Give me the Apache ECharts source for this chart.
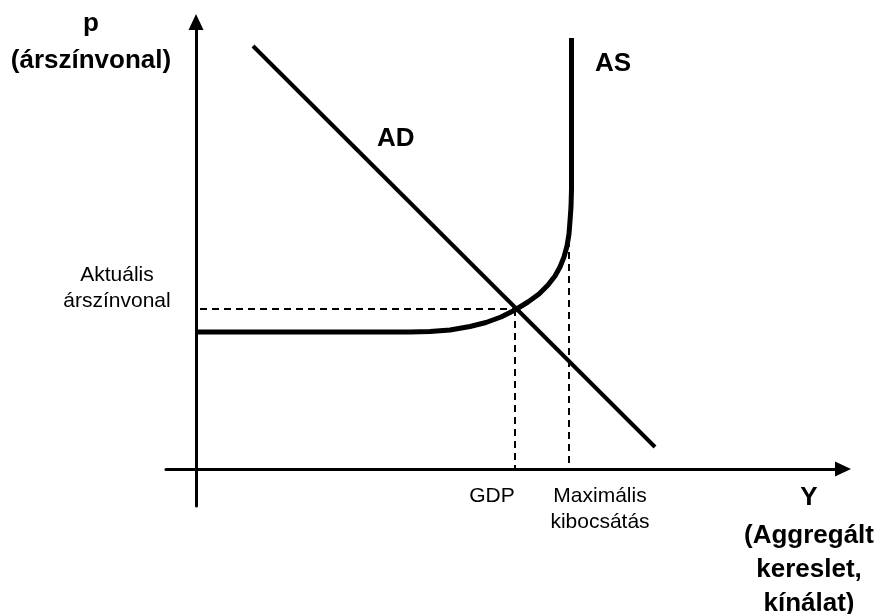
<!DOCTYPE html>
<html>
<head>
<meta charset="utf-8">
<script src="https://cdn.jsdelivr.net/npm/echarts@6/dist/echarts.min.js"></script>
<style>
  html, body { margin: 0; padding: 0; background: #fff; }
  #chart { width: 880px; height: 614px; }
</style>
</head>
<body>
<div id="chart"></div>
<script>
// AD-AS modell, a tengelyek egysegei tetszolegesek
const adLine = [[5.7, 42.3], [45.9, 2.2]]
const asCurve = [
  [0, 13.7], [21.4, 13.7], [23.4, 13.75], [25.4, 13.9], [27.4, 14.25],
  [29.0, 14.65], [30.5, 15.2], [31.9, 15.9], [33.2, 16.7], [34.3, 17.5],
  [35.2, 18.4], [35.9, 19.3], [36.4, 20.2], [36.8, 21.2], [37.1, 22.3],
  [37.3, 23.5], [37.4, 24.8], [37.5, 26.2], [37.55, 28.0], [37.55, 43.1]
]
const priceLevel = 16       // aktuális árszínvonal
const gdp = 31.9
const maxOutput = 37.3
const maxOutputTop = 22.9
const priceStart = 0.4

const font = (size, bold) => (bold ? 'bold ' : '') + size + 'px "Liberation Sans", Arial, sans-serif'

const labels = [
  { text: 'p', x: 91, y: 24, bold: true, align: 'center' },
  { text: '(árszínvonal)', x: 91, y: 61, bold: true, align: 'center' },
  { text: 'AD', x: 377, y: 139, bold: true, align: 'left' },
  { text: 'AS', x: 595, y: 64, bold: true, align: 'left' },
  { text: 'Aktuális', x: 117, y: 275, bold: false, align: 'center' },
  { text: 'árszínvonal', x: 117, y: 301, bold: false, align: 'center' },
  { text: 'GDP', x: 492, y: 496, bold: false, align: 'center' },
  { text: 'Maximális', x: 600, y: 496, bold: false, align: 'center' },
  { text: 'kibocsátás', x: 600, y: 522, bold: false, align: 'center' },
  { text: 'Y', x: 809, y: 498, bold: true, align: 'center' },
  { text: '(Aggregált', x: 809, y: 536, bold: true, align: 'center' },
  { text: 'kereslet,', x: 809, y: 570, bold: true, align: 'center' },
  { text: 'kínálat)', x: 809, y: 604, bold: true, align: 'center' }
]

const chart = echarts.init(document.getElementById('chart'))

const axisCommon = {
  type: 'value',
  splitLine: { show: false },
  axisTick: { show: false },
  axisLabel: { show: false },
  axisLine: {
    show: true,
    onZero: true,
    symbol: ['none', 'triangle'],
    symbolSize: [15, 16],
    lineStyle: { color: '#000', width: 3 }
  }
}

const dashed = { color: '#000', width: 2, type: [7, 5] }

const option = {
  animation: false,
  backgroundColor: '#fff',
  grid: { left: 166, right: 37, top: 22, bottom: 108 },
  xAxis: { ...axisCommon, min: -3, max: 64.7 },
  yAxis: { ...axisCommon, min: -3.7, max: 44.7 },
  series: [
    {
      name: 'árszínvonal',
      type: 'line',
      data: [[priceStart, priceLevel], [gdp, priceLevel]],
      showSymbol: false,
      lineStyle: dashed,
      z: 1
    },
    {
      name: 'GDP',
      type: 'line',
      data: [[gdp, priceLevel], [gdp, 0]],
      showSymbol: false,
      lineStyle: dashed,
      z: 1
    },
    {
      name: 'Maximális kibocsátás',
      type: 'line',
      data: [[maxOutput, maxOutputTop], [maxOutput, 0]],
      showSymbol: false,
      lineStyle: dashed,
      z: 1
    },
    {
      name: 'AD',
      type: 'line',
      data: adLine,
      showSymbol: false,
      lineStyle: { color: '#000', width: 4 },
      z: 3
    },
    {
      name: 'AS',
      type: 'line',
      data: asCurve,
      smooth: false,
      showSymbol: false,
      lineStyle: { color: '#000', width: 5, join: 'round' },
      z: 3
    }
  ],
  graphic: labels.map(l => ({
    type: 'text',
    x: l.x,
    y: l.y,
    silent: true,
    style: {
      text: l.text,
      font: font(l.bold ? 26 : 21, l.bold),
      fill: '#000',
      textAlign: l.align,
      textVerticalAlign: 'middle'
    }
  }))
}

chart.setOption(option)
window.addEventListener('resize', () => chart.resize())
</script>
</body>
</html>
